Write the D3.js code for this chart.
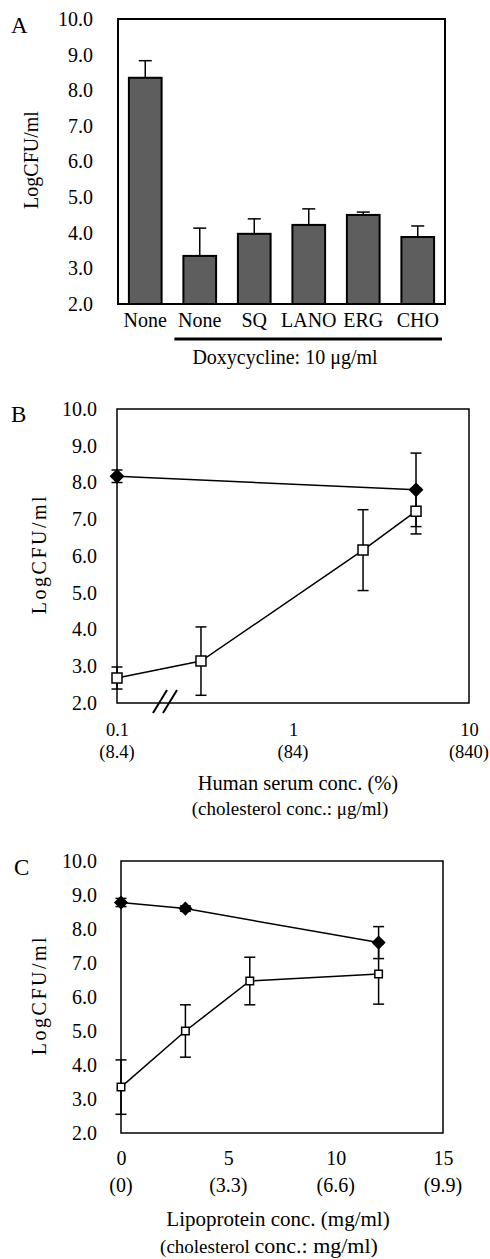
<!DOCTYPE html>
<html>
<head>
<meta charset="utf-8">
<script src="https://d3js.org/d3.v7.min.js"></script>
<style>
  body { margin: 0; background: #fff; }
  svg text { font-family: "Liberation Serif", "Times New Roman", serif; fill: #000; }
</style>
</head>
<body>
<div id="chart"></div>
<script>
// ---- panel A data: bars with upper error bars
const catsA = ["None", "None", "SQ", "LANO", "ERG", "CHO"];
const meanA = [8.35, 3.35, 3.97, 4.22, 4.5, 3.88];
const errA = [0.48, 0.78, 0.42, 0.45, 0.08, 0.31];

// ---- panel B data: human serum (log x)
const serumSqX = [0.1, 0.3, 2.5, 5];
const serumSqY = [2.68, 3.14, 6.16, 7.22];
const serumSqErr = [0.3, 0.93, 1.1, 0.62];
const serumDiX = [0.1, 5];
const serumDiY = [8.17, 7.8];
const serumDiErr = [0.17, 1.0];
const serumTicks = [0.1, 1, 10];
const serumTicks2 = ["(8.4)", "(84)", "(840)"];

// ---- panel C data: lipoprotein
const lipoSqX = [0, 3, 6, 12];
const lipoSqY = [3.35, 5.0, 6.47, 6.68];
const lipoSqErr = [0.8, 0.77, 0.7, 0.89];
const lipoDiX = [0, 3, 12];
const lipoDiY = [8.78, 8.6, 7.6];
const lipoDiErr = [0.12, 0.08, 0.47];
const lipoTicks = [0, 5, 10, 15];
const lipoTicks2 = ["(0)", "(3.3)", "(6.6)", "(9.9)"];

const yTicks = [2, 3, 4, 5, 6, 7, 8, 9, 10];
const FS = 20;

const svg = d3.select("#chart").append("svg")
  .attr("width", 490).attr("height", 1259);

function yAxis(g, y, pad) {
  g.call(d3.axisLeft(y).tickValues(yTicks).tickFormat(d3.format(".1f")).tickSize(0).tickPadding(pad));
  g.select(".domain").remove();
  g.selectAll("text").attr("font-family", null).attr("font-size", FS);
}

function errBars(g, xs, ys, es, x, y, w) {
  xs.forEach((v, i) => {
    const cx = x(v);
    g.append("line").attr("x1", cx).attr("x2", cx)
      .attr("y1", y(ys[i] - es[i])).attr("y2", y(ys[i] + es[i]))
      .attr("stroke", "#000").attr("stroke-width", 1.5);
    [ys[i] - es[i], ys[i] + es[i]].forEach(e => {
      g.append("line").attr("x1", cx - w / 2).attr("x2", cx + w / 2)
        .attr("y1", y(e)).attr("y2", y(e))
        .attr("stroke", "#000").attr("stroke-width", 1.5);
    });
  });
}

function series(g, xs, ys, x, y, kind, size) {
  const pts = xs.map((v, i) => [x(v), y(ys[i])]);
  g.append("path").attr("d", d3.line()(pts))
    .attr("fill", "none").attr("stroke", "#000").attr("stroke-width", 1.5);
  g.selectAll(null).data(pts).enter().append("path")
    .attr("transform", d => `translate(${d[0]},${d[1]})` + (kind === "diamond" ? " rotate(45)" : ""))
    .attr("d", d3.symbol(d3.symbolSquare, size * size))
    .attr("fill", kind === "diamond" ? "#000" : "#fff")
    .attr("stroke", "#000").attr("stroke-width", 1.5);
}

function yLabel(x, y, spacing) {
  svg.append("text")
    .attr("transform", `translate(${x},${y}) rotate(-90)`)
    .attr("text-anchor", "middle")
    .attr("font-size", FS)
    .attr("letter-spacing", spacing)
    .text("LogCFU/ml");
}

function panelLetter(t, x, y) {
  svg.append("text").attr("x", x).attr("y", y).attr("font-size", 23).text(t);
}

// ================= Panel A =================
{
  const left = 118, right = 445, top = 19, bottom = 304;
  const x = d3.scaleBand().domain(d3.range(catsA.length)).range([left, right])
    .paddingInner(0.4).paddingOuter(0.2);
  const y = d3.scaleLinear().domain([2, 10]).range([bottom, top]);
  const g = svg.append("g");

  yAxis(g.append("g").attr("transform", `translate(${left},0)`), y, 25);

  const xa = g.append("g").attr("transform", `translate(0,${bottom})`)
    .call(d3.axisBottom(x).tickSize(0).tickPadding(9).tickFormat(i => catsA[i]));
  xa.select(".domain").remove();
  xa.selectAll("text").attr("font-family", null).attr("font-size", FS);

  // error bars (upper only)
  meanA.forEach((m, i) => {
    const cx = x(i) + x.bandwidth() / 2;
    g.append("line").attr("x1", cx).attr("x2", cx)
      .attr("y1", y(m)).attr("y2", y(m + errA[i]))
      .attr("stroke", "#000").attr("stroke-width", 1.5);
    g.append("line").attr("x1", cx - 6.5).attr("x2", cx + 6.5)
      .attr("y1", y(m + errA[i])).attr("y2", y(m + errA[i]))
      .attr("stroke", "#000").attr("stroke-width", 1.5);
  });

  g.selectAll(".bar").data(meanA).enter().append("rect")
    .attr("x", (d, i) => x(i)).attr("width", x.bandwidth())
    .attr("y", d => y(d)).attr("height", d => bottom - y(d))
    .attr("fill", "#5e5e5e").attr("stroke", "#000").attr("stroke-width", 2);

  g.append("rect").attr("x", left).attr("y", top)
    .attr("width", right - left).attr("height", bottom - top)
    .attr("fill", "none").attr("stroke", "#000").attr("stroke-width", 2);

  // doxycycline bracket
  g.append("line").attr("x1", x(1) - 9).attr("x2", right - 3)
    .attr("y1", 339).attr("y2", 339).attr("stroke", "#000").attr("stroke-width", 3);
  g.append("text").attr("x", 285).attr("y", 364).attr("text-anchor", "middle")
    .attr("font-size", FS).text("Doxycycline: 10 \u03bcg/ml");

  yLabel(38, 160, 0);
  panelLetter("A", 11, 33);
}

// ================= Panel B =================
{
  const left = 117, right = 469, top = 409, bottom = 703;
  const x = d3.scaleLog().domain([0.1, 10]).range([left, right]);
  const y = d3.scaleLinear().domain([2, 10]).range([bottom, top]);
  const g = svg.append("g");

  yAxis(g.append("g").attr("transform", `translate(${left},0)`), y, 20);

  const xa = g.append("g").attr("transform", `translate(0,${bottom})`)
    .call(d3.axisBottom(x).tickValues(serumTicks).tickSize(0).tickPadding(20).tickFormat(d => String(d)));
  xa.select(".domain").remove();
  xa.selectAll("text").attr("font-family", null).attr("font-size", 18.5);

  g.selectAll(".t2").data(serumTicks).enter().append("text")
    .attr("x", d => x(d)).attr("y", 758).attr("text-anchor", "middle")
    .attr("font-size", 18.5).text((d, i) => serumTicks2[i]);

  g.append("rect").attr("x", left).attr("y", top)
    .attr("width", right - left).attr("height", bottom - top)
    .attr("fill", "none").attr("stroke", "#000").attr("stroke-width", 1.5);

  errBars(g, serumSqX, serumSqY, serumSqErr, x, y, 11);
  errBars(g, serumDiX, serumDiY, serumDiErr, x, y, 11);
  series(g, serumSqX, serumSqY, x, y, "square", 10);
  series(g, serumDiX, serumDiY, x, y, "diamond", 9);

  // axis break
  [0, 10].forEach(dx => {
    g.append("line").attr("x1", 153 + dx).attr("y1", 713).attr("x2", 167 + dx).attr("y2", 690)
      .attr("stroke", "#000").attr("stroke-width", 2);
  });

  g.append("text").attr("x", 298).attr("y", 790).attr("text-anchor", "middle")
    .attr("font-size", 20.5).text("Human serum conc. (%)");
  g.append("text").attr("x", 290).attr("y", 815).attr("text-anchor", "middle")
    .attr("font-size", 19).text("(cholesterol conc.: \u03bcg/ml)");

  yLabel(46, 554, 2.5);
  panelLetter("B", 11, 422);
}

// ================= Panel C =================
{
  const left = 121, right = 443, top = 861, bottom = 1133;
  const x = d3.scaleLinear().domain([0, 15]).range([left, right]);
  const y = d3.scaleLinear().domain([2, 10]).range([bottom, top]);
  const g = svg.append("g");

  yAxis(g.append("g").attr("transform", `translate(${left},0)`), y, 24);

  const xa = g.append("g").attr("transform", `translate(0,${bottom})`)
    .call(d3.axisBottom(x).tickValues(lipoTicks).tickSize(0).tickPadding(18).tickFormat(d3.format("d")));
  xa.select(".domain").remove();
  xa.selectAll("text").attr("font-family", null).attr("font-size", FS);

  g.selectAll(".t2").data(lipoTicks).enter().append("text")
    .attr("x", d => x(d)).attr("y", 1192).attr("text-anchor", "middle")
    .attr("font-size", FS).text((d, i) => lipoTicks2[i]);

  g.append("rect").attr("x", left).attr("y", top)
    .attr("width", right - left).attr("height", bottom - top)
    .attr("fill", "none").attr("stroke", "#000").attr("stroke-width", 1.5);

  errBars(g, lipoSqX, lipoSqY, lipoSqErr, x, y, 11);
  errBars(g, lipoDiX, lipoDiY, lipoDiErr, x, y, 11);
  series(g, lipoSqX, lipoSqY, x, y, "square", 7.5);
  series(g, lipoDiX, lipoDiY, x, y, "diamond", 8.5);

  g.append("text").attr("x", 278).attr("y", 1226).attr("text-anchor", "middle")
    .attr("font-size", 21).text("Lipoprotein conc. (mg/ml)");
  const t = g.append("text").attr("x", 269).attr("y", 1253).attr("text-anchor", "middle");
  t.append("tspan").attr("font-size", 19).text("(cholesterol ");
  t.append("tspan").attr("font-size", 22).text("conc.: mg/ml)");

  yLabel(46, 995, 2.5);
  panelLetter("C", 14, 875);
}
</script>
</body>
</html>
